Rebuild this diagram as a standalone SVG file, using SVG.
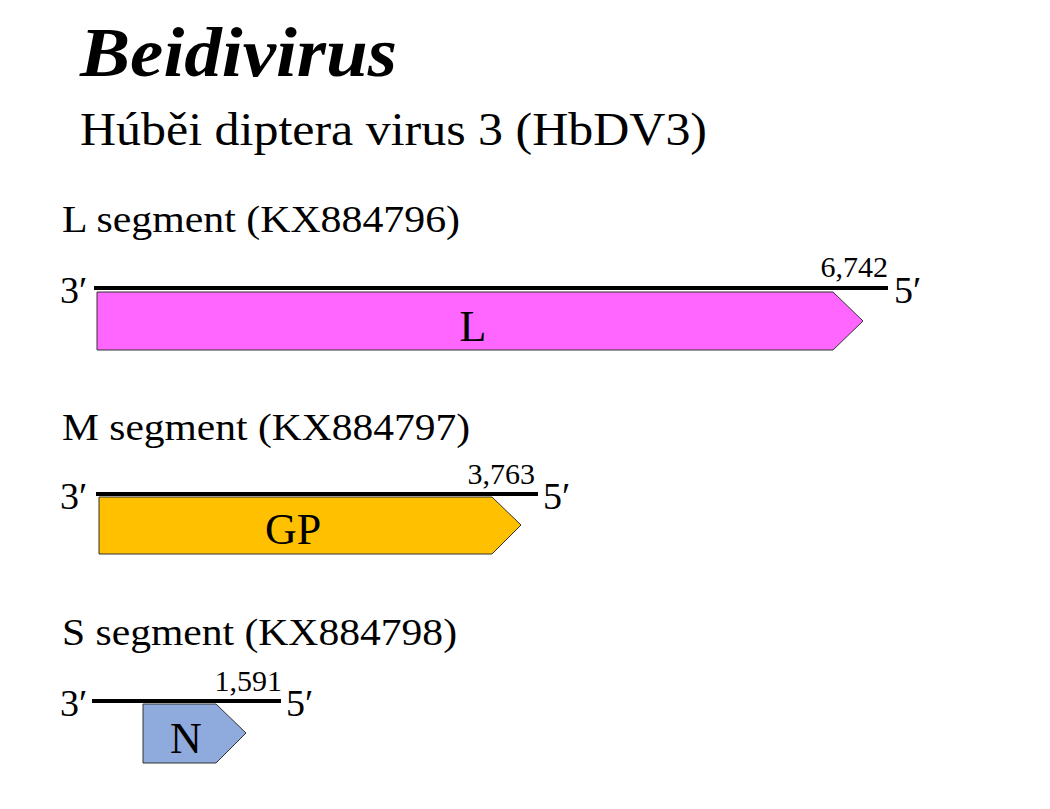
<svg xmlns="http://www.w3.org/2000/svg" width="1050" height="809" viewBox="0 0 1050 809">
<style>
text{font-family:"Liberation Serif","Times New Roman",serif;fill:#000}
.h{font-size:38px}.n{font-size:30px}.p{font-size:44px;text-anchor:middle}
.ln{stroke:#000;stroke-width:4}
.g{stroke:#333;stroke-width:1}
</style>
<rect width="1050" height="809" fill="#fff"/>
<text x="80" y="76" font-size="70" font-weight="bold" font-style="italic" textLength="317" lengthAdjust="spacingAndGlyphs">Beidivirus</text>
<text x="80" y="145" font-size="46" textLength="627" lengthAdjust="spacingAndGlyphs">Húběi diptera virus 3 (HbDV3)</text>
<text x="62" y="232" class="h" textLength="398" lengthAdjust="spacingAndGlyphs">L segment (KX884796)</text>
<text x="62" y="440" class="h" textLength="408" lengthAdjust="spacingAndGlyphs">M segment (KX884797)</text>
<text x="62" y="645" class="h" textLength="395" lengthAdjust="spacingAndGlyphs">S segment (KX884798)</text>
<g id="connectors">
<line class="ln" x1="94" y1="288" x2="888" y2="288"/>
<line class="ln" x1="96" y1="494" x2="538" y2="494"/>
<line class="ln" x1="92" y1="701" x2="281" y2="701"/>
</g>
<g id="L">
<text x="60" y="303" class="h">3′</text><text x="894" y="303" class="h">5′</text>
<text x="888" y="277" class="n" text-anchor="end">6,742</text>
<polygon class="g" fill="#ff66ff" points="97,292 833,292 863,321 833,350 97,350"/>
<text x="473" y="341" class="p">L</text>
</g>
<g id="GP">
<text x="60" y="509" class="h">3′</text><text x="543" y="509" class="h">5′</text>
<text x="535" y="484" class="n" text-anchor="end">3,763</text>
<polygon class="g" fill="#ffc000" points="99,497 492,497 521,525 492,554 99,554"/>
<text x="293" y="544" class="p">GP</text>
</g>
<g id="N">
<text x="60" y="716" class="h">3′</text><text x="286" y="716" class="h">5′</text>
<text x="282" y="691" class="n" text-anchor="end">1,591</text>
<polygon class="g" fill="#8faadc" points="143,704 216,704 246,733 216,763 143,763"/>
<text x="186" y="753" class="p">N</text>
</g>
</svg>
